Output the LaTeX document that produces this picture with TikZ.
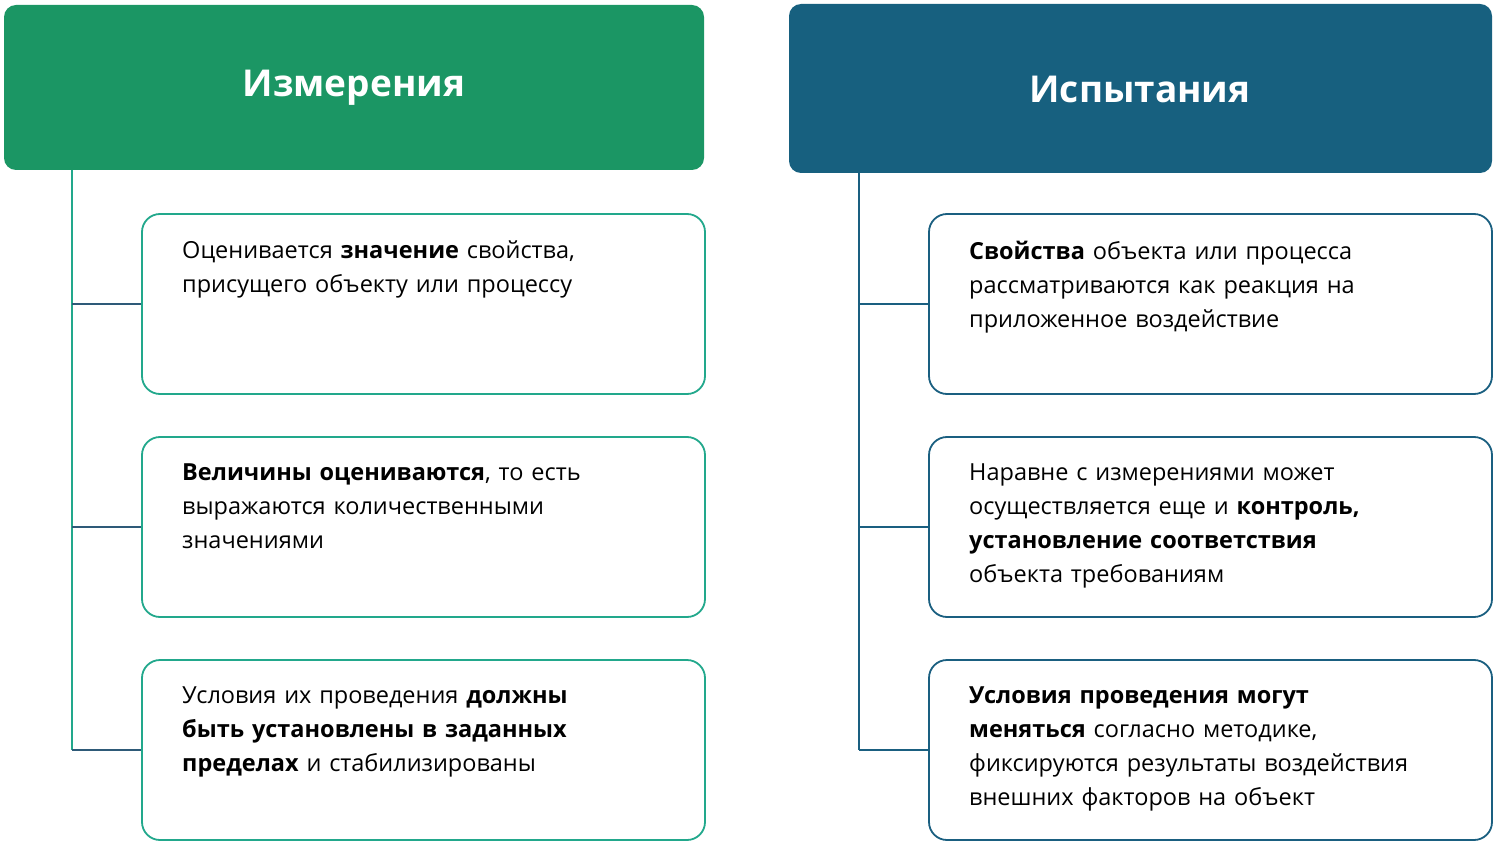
\documentclass[tikz,border=0pt]{standalone}
\usepackage{fontspec}
\setmainfont{Open Sans}
\begin{document}
\begin{tikzpicture}[x=1pt,y=-1pt,
  hdr/.style={rounded corners=12pt,inner sep=0pt},
  boxL/.style={draw=tealc,line width=1.8pt,rounded corners=18pt,fill=white},
  boxR/.style={draw=bluec,line width=1.8pt,rounded corners=18pt,fill=white},
  txt/.style={anchor=north west,align=left,text width=520pt,inner sep=0pt,font=\fontsize{23.5}{34}\selectfont},
  htxt/.style={text=white,font=\fontsize{37}{40}\selectfont\bfseries}]
\definecolor{greenh}{HTML}{1B9664}
\definecolor{blueh}{HTML}{17607F}
\definecolor{tealc}{HTML}{22A88C}
\definecolor{bluec}{HTML}{1A5F80}
\definecolor{branch}{HTML}{2E5A78}
\useasboundingbox (0,0) rectangle (1494,845);
% headers
\fill[greenh,rounded corners=12pt] (4,5) rectangle (704,170);
\node[htxt] (hl) at (354,88) {Измерения};
\fill[blueh,rounded corners=12pt] (789,4) rectangle (1492,173);
\node[htxt] (hr) at (1140,89) {Испытания};
% connectors
\draw[tealc,line width=2pt] (72,170) -- (72,750);
\draw[bluec,line width=2pt] (859,173) -- (859,750);
\foreach \y in {304,527,750}{
  \draw[branch,line width=2pt] (72,\y) -- (142,\y);
  \draw[bluec,line width=2pt] (859,\y) -- (929,\y);
}
% boxes
\foreach \y/\n in {214/1,437/2,660/3}{
  \draw[boxL] (142,\y) rectangle (705,\y+180);
  \draw[boxR] (929,\y) rectangle (1492,\y+180);
}
\node[txt] (l1) at (182,241) {Оценивается \textbf{значение} свойства,\\присущего объекту или процессу};
\node[txt] (l2) at (182,464) {\textbf{Величины оцениваются}, то есть\\выражаются количественными\\значениями};
\node[txt] (l3) at (182,687) {Условия их проведения \textbf{должны}\\\textbf{быть установлены в заданных}\\\textbf{пределах} и стабилизированы};
\node[txt] (r1) at (969,241) {\textbf{Свойства} объекта или процесса\\рассматриваются как реакция на\\приложенное воздействие};
\node[txt] (r2) at (969,464) {Наравне с измерениями может\\осуществляется еще и \textbf{контроль,}\\\textbf{установление соответствия}\\объекта требованиям};
\node[txt] (r3) at (969,687) {\textbf{Условия проведения могут}\\\textbf{меняться} согласно методике,\\фиксируются результаты воздействия\\внешних факторов на объект};
\end{tikzpicture}
\end{document}
